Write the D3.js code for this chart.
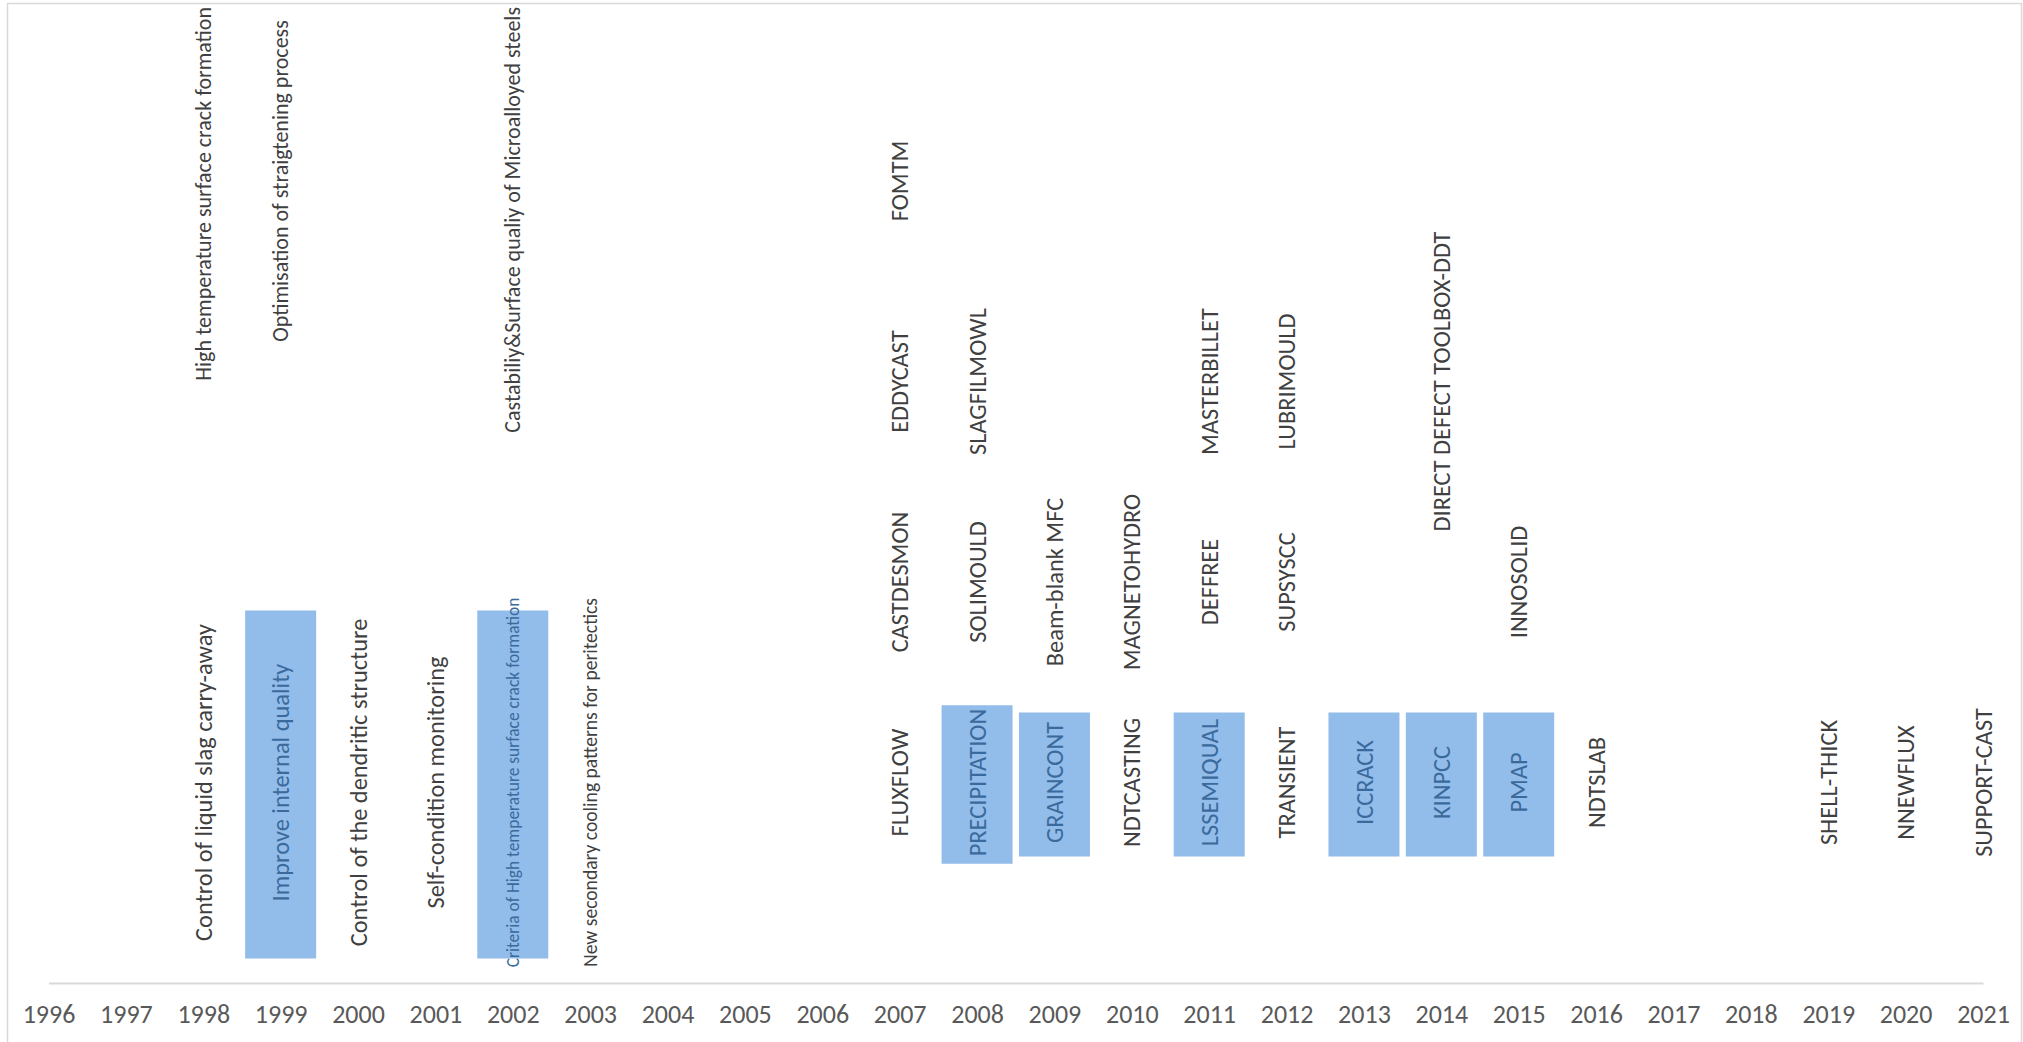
<!DOCTYPE html>
<html>
<head>
<meta charset="utf-8">
<script src="https://cdn.jsdelivr.net/npm/d3@7"></script>
<style>
  html, body { margin: 0; padding: 0; background: #fff; }
  svg { display: block; }
</style>
</head>
<body>
<svg id="chart" width="2023" height="1042"></svg>
<script>
// ---------------- data ----------------
const years = ["1996","1997","1998","1999","2000","2001","2002","2003","2004","2005","2006","2007","2008",
               "2009","2010","2011","2012","2013","2014","2015","2016","2017","2018","2019","2020","2021"];

const labelYears = [
  "1998","1998","1999","1999","2000","2001","2002","2002","2003",
  "2007","2007","2007","2007",
  "2008","2008","2008",
  "2009","2009",
  "2010","2010",
  "2011","2011","2011",
  "2012","2012","2012",
  "2013",
  "2014","2014",
  "2015","2015",
  "2016","2019","2020","2021"
];
const labelLevels = [
  1,4,1,4,1,1,1,4,1,
  1,2,3,4,
  1,2,3,
  1,2,
  1,2,
  1,2,3,
  1,2,3,
  1,
  1,3,
  1,2,
  1,1,1,1
];
const labelTexts = [
  "Control of liquid slag carry-away","High temperature surface crack formation",
  "Improve internal quality","Optimisation of straigtening process",
  "Control of the dendritic structure","Self-condition monitoring",
  "Criteria of High temperature surface crack formation","Castabiliy&Surface qualiy of Microalloyed steels",
  "New secondary cooling patterns for peritectics",
  "FLUXFLOW","CASTDESMON","EDDYCAST","FOMTM",
  "PRECIPITATION","SOLIMOULD","SLAGFILMOWL",
  "GRAINCONT","Beam-blank MFC",
  "NDTCASTING","MAGNETOHYDRO",
  "LSSEMIQUAL","DEFFREE","MASTERBILLET",
  "TRANSIENT","SUPSYSCC","LUBRIMOULD",
  "ICCRACK",
  "KINPCC","DIRECT DEFECT TOOLBOX-DDT",
  "PMAP","INNOSOLID",
  "NDTSLAB","SHELL-THICK","NNEWFLUX","SUPPORT-CAST"
];
// labels drawn inside a filled box
const boxedLabels = ["Improve internal quality","Criteria of High temperature surface crack formation",
  "PRECIPITATION","GRAINCONT","LSSEMIQUAL","ICCRACK","KINPCC","PMAP"];
// labels set in smaller type sizes
const mediumLabels = ["High temperature surface crack formation","Optimisation of straigtening process",
  "Castabiliy&Surface qualiy of Microalloyed steels"];
const smallLabels = ["New secondary cooling patterns for peritectics"];
const tinyLabels = ["Criteria of High temperature surface crack formation"];

const labels = labelTexts.map((t, i) => ({ year: labelYears[i], level: labelLevels[i], text: t,
  boxed: boxedLabels.includes(t),
  size: tinyLabels.includes(t) ? "tiny" : smallLabels.includes(t) ? "small" : mediumLabels.includes(t) ? "medium" : "normal" }));

// ---------------- style ----------------
const W = 2023, H = 1042;
const FONT = "Carlito, Calibri, Lato, 'Open Sans', sans-serif";
const fontSizes = { normal: 24.4, medium: 22, small: 19.6, tiny: 17.4 };
const textColor = "#404040";
const boxFill = "#92BCEA";
const boxText = "#3A6A9C";

const svg = d3.select("#chart");
svg.append("rect").attr("x", 0).attr("y", 0).attr("width", W).attr("height", H).attr("fill", "#fff");
// chart border
svg.append("rect").attr("x", 7.5).attr("y", 3.5).attr("width", 2014).attr("height", 1060)
  .attr("fill", "none").attr("stroke", "#d9d9d9").attr("stroke-width", 1.5);

const x = d3.scalePoint().domain(years).range([48.5, 1983]);
const y = d3.scaleLinear().domain([0, 4]).range([983, 181]);
const plotTop = 7;

// axis
const ax = svg.append("g").attr("transform", `translate(0,${y(0)})`)
  .call(d3.axisBottom(x).tickSize(0).tickSizeOuter(0).tickPadding(22));
ax.select(".domain").attr("stroke", "#d9d9d9").attr("stroke-width", 2);
ax.selectAll("text").attr("font-family", FONT).attr("font-size", 26).attr("fill", "#595959");

// labels
const g = svg.append("g");
labels.forEach(d => {
  const fs = fontSizes[d.size];
  const grp = g.append("g");
  const t = grp.append("text")
    .attr("font-family", FONT).attr("font-size", fs)
    .attr("fill", d.boxed ? boxText : textColor)
    .attr("text-anchor", "middle").attr("dy", "0.35em")
    .text(d.text);
  const len = t.node().getComputedTextLength();
  let cy = y(d.level);
  if (cy - len / 2 < plotTop) cy = plotTop + len / 2;
  const cx = x(d.year);
  t.attr("transform", `translate(${cx},${cy}) rotate(-90)`);
  if (d.boxed) {
    const desc = /[a-z]/.test(d.text);
    const bh = desc ? 348 : Math.max(144, len + 11);
    const bw = 71;
    grp.insert("rect", "text")
      .attr("x", cx - bw / 2).attr("y", y(d.level) + 2 - bh / 2)
      .attr("width", bw).attr("height", bh).attr("fill", boxFill);
  }
});
</script>
</body>
</html>
